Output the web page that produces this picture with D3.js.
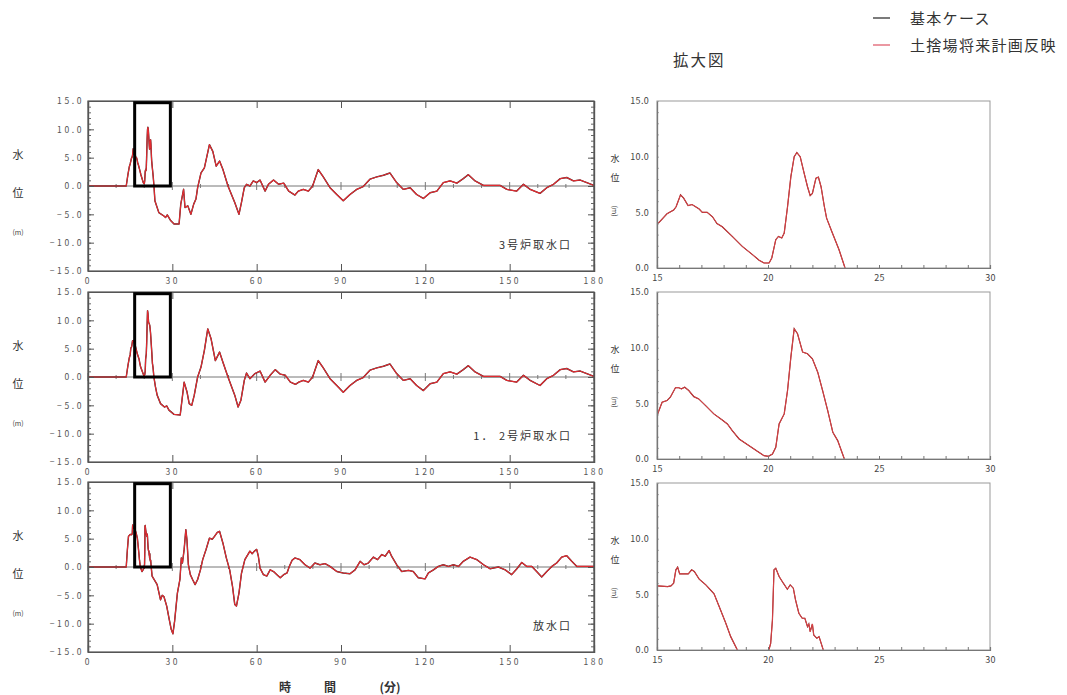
<!DOCTYPE html>
<html><head><meta charset="utf-8">
<script src="https://cdn.jsdelivr.net/npm/d3@7"></script>
<style>body{margin:0;background:#fff;} svg{display:block;font-family:"Noto Sans CJK JP","Noto Sans",sans-serif;}</style>
</head><body><svg id="c" width="1067" height="695"></svg>
<script>
// ---------- data ----------
const timeTicks = [0, 30, 60, 90, 120, 150, 180];
const levelTicks = [-15, -10, -5, 0, 5, 10, 15];
const zoomTimeTicks = [15, 20, 25, 30];
const zoomLevelTicks = [0, 5, 10, 15];
const panelNames = ["3号炉取水口", "1． 2号炉取水口", "放水口"];
const seriesNames = ["基本ケース", "土捨場将来計画反映"];
const zoomBoxTime = [16.6, 29.3];
const zoomBoxLevel = [0, 14.7];

// [time (min), water level (m)] — both cases coincide in the figure
const intake3 = [[0,0],[13.6,0],[14.2,2.0],[14.7,3.4],[15,3.9],[15.45,4.87],[15.75,5.2],[15.86,5.5],[16.06,6.57],[16.2,6.27],[16.4,5.6],[16.58,5.7],[16.9,5.3],[17.04,5.0],[17.26,5.0],[17.5,4.6],[17.7,4.0],[17.94,3.7],[18.39,2.84],[18.84,1.94],[19.3,1.2],[19.6,0.69],[19.82,0.45],[20.05,0.45],[20.17,0.9],[20.35,2.54],[20.47,2.84],[20.62,2.7],[20.73,3.14],[20.88,5.5],[21.03,8.2],[21.18,10.0],[21.3,10.37],[21.45,10.0],[21.63,8.5],[21.78,7.3],[21.9,6.5],[22.0,6.7],[22.16,8.07],[22.27,8.16],[22.39,7.3],[22.54,5.5],[22.64,4.48],[22.9,3.14],[23.2,1.64],[23.47,0],[23.8,-2.6],[25.2,-4.7],[27,-5.3],[27.6,-5.55],[28.2,-5.1],[29.4,-6.1],[30.6,-6.7],[32.4,-6.7],[33,-3.2],[34,-0.58],[34.5,-3.8],[35.5,-3.5],[36.6,-5.0],[37.6,-3.2],[38.4,-2.3],[39,-0.3],[40.2,2.3],[41.4,3.2],[43.2,7.3],[44.4,6.1],[45.6,3.5],[46.8,4.4],[48,2.9],[49.8,0],[52.2,-2.9],[53.7,-5.0],[54.6,-2.9],[55.6,-0.3],[56.4,0.3],[57.6,0],[58.8,0.9],[60,0.6],[61.2,1.05],[63,-0.9],[64.2,0.3],[66,1.05],[67.8,0.3],[69.6,0.5],[71.4,-0.9],[73.6,-1.6],[74.8,-0.9],[76.6,-0.6],[78.4,-0.9],[79.9,0],[81.9,2.9],[83.7,1.6],[86.1,-0.3],[88.5,-1.5],[90.8,-2.6],[93.2,-1.5],[95.6,-0.6],[97.9,-0.1],[100.3,1.2],[102.7,1.6],[105.1,1.9],[107.4,2.3],[109.8,0.6],[112.2,-0.6],[114.6,-0.3],[116.9,-1.5],[119.3,-2.2],[121.7,-1.2],[124.1,-0.9],[126.4,0.6],[128.8,0.9],[131.2,0.5],[133.5,1.3],[135.3,2.0],[137.7,0.9],[140.7,0.1],[144.2,0.1],[146.6,0.1],[149,-0.6],[152.5,-0.9],[154.9,0.3],[157.3,-0.6],[160.8,-1.3],[163.2,-0.3],[165.6,0.3],[168,1.3],[170.3,1.5],[172.7,0.9],[175.1,1.05],[180,0.1]];

const intake12 = [[0,0],[13.6,0],[14.2,2.0],[14.7,3.4],[15,3.9],[15.23,5.1],[15.45,5.25],[15.6,5.55],[15.83,6.4],[15.98,6.4],[16.1,6.3],[16.25,6.45],[16.43,6.15],[16.66,5.6],[16.88,5.4],[17.19,4.8],[17.56,4.05],[17.94,3.5],[18.17,3.15],[18.39,2.55],[18.7,1.8],[19.15,1.2],[19.52,0.69],[19.82,0.3],[20.02,0.24],[20.2,0.45],[20.35,1.05],[20.5,3.15],[20.73,4.05],[20.88,6.15],[21.03,9.15],[21.18,11.7],[21.33,11.25],[21.56,9.6],[21.78,9.45],[22.0,9.0],[22.24,7.8],[22.46,6.15],[22.69,4.35],[22.92,2.4],[23.14,1.65],[23.44,0],[24,-1.75],[24.6,-3.2],[25.8,-4.7],[27.2,-5.3],[28,-5.1],[28.8,-5.85],[30.6,-6.6],[32.8,-6.7],[34.2,-0.9],[35.2,-2.6],[36,-4.7],[36.9,-5.0],[37.8,-3.2],[39,0],[40.2,1.75],[41.4,4.7],[42.6,8.5],[43.8,6.7],[45.3,2.9],[46.8,4.4],[48,2.6],[49.8,0],[52.2,-3.2],[53.4,-5.3],[54.4,-4.1],[55.6,-0.6],[56.4,0.7],[57.6,-0.3],[59.4,0.6],[61.2,1.05],[63,-0.9],[64.8,0.3],[66.6,1.3],[68.4,0.5],[70.2,0.3],[72,-0.9],[73.8,-1.3],[75,-0.9],[76.6,-0.6],[78.4,-0.9],[79.9,0],[81.9,2.9],[83.7,1.6],[86.1,-0.3],[88.5,-1.5],[90.8,-2.7],[93.2,-1.5],[95.6,-0.6],[97.9,-0.1],[100.3,1.2],[102.7,1.6],[105.1,1.9],[107.4,2.3],[109.8,0.6],[112.2,-0.6],[114.6,-0.3],[116.9,-1.5],[119.3,-2.4],[121.7,-1.2],[124.1,-0.9],[126.4,0.6],[128.8,0.9],[131.2,0.5],[133.5,1.3],[135.3,2.0],[137.7,0.9],[140.7,0.1],[144.2,0.1],[146.6,0.1],[149,-0.6],[152.5,-0.9],[154.9,0.3],[157.3,-0.6],[160.8,-1.5],[163.2,-0.3],[165.6,0.3],[168,1.3],[170.3,1.5],[172.7,0.9],[175.1,1.05],[180,0.1]];

const outlet = [[0,0],[13.6,0],[14.0,3.0],[14.4,5.4],[15,5.76],[15.48,5.7],[15.63,5.76],[15.75,6.0],[15.85,7.2],[15.93,7.44],[16.02,6.84],[16.23,6.84],[16.41,6.84],[16.56,7.2],[16.68,7.05],[16.9,6.36],[17.2,5.85],[17.57,5.04],[17.8,3.9],[18.1,2.4],[18.32,1.2],[18.62,0],[19.2,-0.8],[19.7,-0.4],[20.04,0],[20.12,0.6],[20.2,2.7],[20.27,7.2],[20.35,7.35],[20.5,6.6],[20.69,6.0],[20.87,5.46],[21.0,5.85],[21.14,5.55],[21.24,4.5],[21.39,3.3],[21.54,2.85],[21.66,2.85],[21.78,2.1],[21.84,2.34],[21.9,1.65],[22.0,2.34],[22.06,1.35],[22.2,1.05],[22.3,1.2],[22.49,0],[22.8,-1.6],[24.6,-3.1],[25.8,-5.8],[26.4,-5.0],[27,-5.2],[28,-6.9],[28.8,-9],[29.6,-11],[30.2,-11.8],[30.8,-9.6],[31.8,-4.6],[32.7,-2.2],[33.2,1.6],[33.6,0.7],[34.2,3.1],[34.8,6.6],[35.2,4.8],[35.7,0.4],[36.4,-1.35],[37.2,-2.2],[38.1,-3.1],[39,-2.2],[40,-0.5],[40.8,1.3],[42,3.1],[43.2,5.1],[44.2,4.9],[45,5.4],[46,6.1],[46.8,6.3],[48,4.2],[49.2,1.6],[50.4,-0.5],[51.4,-3.4],[52.2,-6.6],[52.8,-6.9],[53.7,-4.6],[54.6,-1.1],[55.8,1.3],[57.6,2.8],[58.4,2.35],[59.2,2.8],[60,3.1],[60.6,1.9],[61.2,-0.2],[62.4,-1.35],[63.6,-1.6],[64.8,-0.5],[66,-0.8],[67.2,-1.35],[68.4,-1.9],[69.6,-1.35],[70.8,-1.05],[71.6,0.1],[72.6,1.2],[73.6,1.6],[75.4,1.3],[77.2,0.4],[79,-0.2],[80.7,0.7],[82.5,0.4],[84.3,0.6],[86.1,0.1],[88.5,-0.8],[90.8,-1.05],[93.2,-1.2],[95,-0.5],[96.8,1.0],[98.2,0.4],[99.7,0.7],[101.5,1.75],[103,1.3],[104.5,2.2],[105.7,1.9],[107.1,2.9],[108,1.9],[109.8,0.4],[111.6,-0.8],[114,-0.6],[115.7,-0.8],[117.5,-1.9],[119.9,-2.1],[121.1,-1.05],[122.9,-0.5],[124.6,0.1],[126.4,0.4],[128.2,0.1],[130,0.4],[131.8,0.1],[133.5,1.0],[135.9,1.75],[138.3,1.3],[140.7,0.4],[143,-0.3],[146,0],[148.4,-0.5],[150.7,-1.35],[152.5,-0.35],[154.3,0.8],[156.1,0.1],[157.9,0.1],[159.6,-0.8],[161.4,-1.75],[163.2,-0.8],[165,0.1],[166.7,0.7],[168.5,1.75],[170.3,2.0],[172.1,1.0],[173.9,0.1],[180,0.1]];

const panelData = [intake3, intake12, outlet];
const seriesColors = ["#333333", "#e42a30"];

// ---------- layout ----------
const svg = d3.select("#c");
const L = {x0: 88, x1: 594, h: 170, tops: [101, 292, 482]};
const R = {x0: 657, x1: 990, h: 167, tops: [101, 292, 483]};
const xL = d3.scaleLinear().domain([0, 180]).range([L.x0, L.x1]);
const xR = d3.scaleLinear().domain([15, 30]).range([R.x0, R.x1]);

function styleAxis(g, color, fs, ls, fill) {
  g.select(".domain").attr("stroke", color).attr("stroke-width", 1.2);
  g.selectAll(".tick line").attr("stroke", color);
  g.selectAll("text").attr("font-size", fs).attr("letter-spacing", ls).attr("fill", fill)
    .attr("font-family", "'Noto Sans CJK JP', sans-serif");
}

panelData.forEach((d, i) => {
  // ===== left full-range panel =====
  const top = L.tops[i];
  const y = d3.scaleLinear().domain([-15, 15]).range([top + L.h, top]);
  const g = svg.append("g");

  g.append("line").attr("x1", L.x0).attr("x2", L.x1).attr("y1", y(0)).attr("y2", y(0))
    .attr("stroke", "#777").attr("stroke-width", 1);
  g.selectAll(".zt").data(d3.range(0, 181, 10)).join("line")
    .attr("x1", t => xL(t)).attr("x2", t => xL(t))
    .attr("y1", t => y(0) - (t % 30 === 0 ? 4 : 2)).attr("y2", t => y(0) + (t % 30 === 0 ? 4 : 2))
    .attr("stroke", "#777");

  const line = d3.line().x(p => xL(p[0])).y(p => y(p[1]));
  g.append("path").datum(d).attr("d", line).attr("fill", "none")
    .attr("stroke", seriesColors[0]).attr("stroke-width", 1.4).attr("stroke-linejoin", "round");
  g.append("path").datum(d).attr("d", line).attr("fill", "none")
    .attr("stroke", seriesColors[1]).attr("stroke-width", 1.15).attr("stroke-linejoin", "round");

  g.append("rect").attr("x", L.x0).attr("y", top).attr("width", L.x1 - L.x0).attr("height", L.h)
    .attr("fill", "none").attr("stroke", "#555").attr("stroke-width", 1.2);

  // axes
  g.append("g").attr("transform", `translate(${L.x0},0)`)
    .call(d3.axisLeft(y).tickValues(d3.range(-15, 16, 1)).tickSize(-3).tickFormat(""))
    .call(a => styleAxis(a, "#666", 8, 0, "#555"));
  g.append("g").attr("transform", `translate(${L.x0},0)`)
    .call(d3.axisLeft(y).tickValues(levelTicks).tickSize(-6).tickPadding(4).tickFormat(d3.format(".1f")))
    .call(a => styleAxis(a, "#555", 8.5, 2.6, "#555"));
  g.append("g").attr("transform", `translate(${L.x1},0)`)
    .call(d3.axisRight(y).tickValues(d3.range(-15, 16, 1)).tickSize(-3).tickFormat(""))
    .call(a => styleAxis(a, "#666", 8, 0, "#555"));
  g.append("g").attr("transform", `translate(${L.x1},0)`)
    .call(d3.axisRight(y).tickValues(levelTicks).tickSize(-6).tickFormat(""))
    .call(a => styleAxis(a, "#555", 8, 0, "#555"));
  g.append("g").attr("transform", `translate(0,${top + L.h})`)
    .call(d3.axisBottom(xL).tickValues(timeTicks).tickSize(-7).tickPadding(7).tickFormat(d3.format("d")))
    .call(a => styleAxis(a, "#555", 8.5, 2.6, "#555"));
  g.append("g").attr("transform", `translate(0,${top})`)
    .call(d3.axisTop(xL).tickValues(timeTicks).tickSize(-7).tickFormat(""))
    .call(a => styleAxis(a, "#555", 8, 0, "#555"));

  // zoom box
  g.append("rect")
    .attr("x", xL(zoomBoxTime[0])).attr("y", y(zoomBoxLevel[1]))
    .attr("width", xL(zoomBoxTime[1]) - xL(zoomBoxTime[0]))
    .attr("height", y(zoomBoxLevel[0]) - y(zoomBoxLevel[1]))
    .attr("fill", "none").attr("stroke", "#000").attr("stroke-width", 3);

  // y titles
  g.append("text").attr("x", 18).attr("y", top + 58).attr("text-anchor", "middle")
    .attr("font-size", 11).attr("fill", "#333").text("水");
  g.append("text").attr("x", 18).attr("y", top + 96).attr("text-anchor", "middle")
    .attr("font-size", 11).attr("fill", "#333").text("位");
  g.append("text").attr("x", 18).attr("y", top + 134).attr("text-anchor", "middle")
    .attr("font-size", 7).attr("fill", "#444").text("(m)");

  g.append("text").attr("x", 572).attr("y", top + 148).attr("text-anchor", "end")
    .attr("font-size", 11).attr("letter-spacing", 2).attr("fill", "#333").text(panelNames[i]);

  // ===== right zoom panel =====
  const rt = R.tops[i];
  const yR = d3.scaleLinear().domain([0, 15]).range([rt + R.h, rt]);
  const rg = svg.append("g");
  const clipId = "clip" + i;
  rg.append("clipPath").attr("id", clipId).append("rect")
    .attr("x", R.x0).attr("y", rt).attr("width", R.x1 - R.x0).attr("height", R.h);
  const lineR = d3.line().x(p => xR(p[0])).y(p => yR(p[1]));
  const lg = rg.append("g").attr("clip-path", `url(#${clipId})`);
  lg.append("path").datum(d).attr("d", lineR).attr("fill", "none")
    .attr("stroke", "#8a1a1a").attr("stroke-width", 1.2);
  lg.append("path").datum(d).attr("d", lineR).attr("fill", "none")
    .attr("stroke", "#e0474c").attr("stroke-width", 0.9);

  rg.append("rect").attr("x", R.x0).attr("y", rt).attr("width", R.x1 - R.x0).attr("height", R.h)
    .attr("fill", "none").attr("stroke", "#999").attr("stroke-width", 1);
  rg.append("g").attr("transform", `translate(${R.x0},0)`)
    .call(d3.axisLeft(yR).tickValues(d3.range(0, 16, 1)).tickSize(-2).tickFormat(""))
    .call(a => styleAxis(a, "#aaa", 8, 0, "#555"));
  rg.append("g").attr("transform", `translate(${R.x0},0)`)
    .call(d3.axisLeft(yR).tickValues(zoomLevelTicks).tickSize(0).tickPadding(8).tickFormat(d3.format(".1f")))
    .call(a => styleAxis(a, "#777", 9, 0.3, "#444"));
  rg.append("g").attr("transform", `translate(0,${rt + R.h})`)
    .call(d3.axisBottom(xR).tickValues(d3.range(15, 31, 1)).tickSize(-3).tickFormat(""))
    .call(a => styleAxis(a, "#777", 8, 0, "#555"));
  rg.append("g").attr("transform", `translate(0,${rt + R.h})`)
    .call(d3.axisBottom(xR).tickValues(zoomTimeTicks).tickSize(0).tickPadding(7).tickFormat(d3.format("d")))
    .call(a => styleAxis(a, "#777", 9, 0.3, "#444"));

  rg.append("text").attr("x", 615).attr("y", rt + 61).attr("text-anchor", "middle")
    .attr("font-size", 9).attr("fill", "#333").text("水");
  rg.append("text").attr("x", 615).attr("y", rt + 80).attr("text-anchor", "middle")
    .attr("font-size", 9).attr("fill", "#333").text("位");
  rg.append("text").attr("transform", `translate(612,${rt + 110}) rotate(90)`).attr("text-anchor", "middle")
    .attr("font-size", 7).attr("fill", "#444").text("(m)");
});

// bottom title
[["時", 285], ["間", 330], ["(分)", 390]].forEach(([s, x]) => {
  svg.append("text").attr("x", x).attr("y", 692).attr("text-anchor", "middle")
    .attr("font-size", 12).attr("font-weight", 600).attr("fill", "#333").text(s);
});

// zoom title
svg.append("text").attr("x", 673).attr("y", 66).attr("font-size", 15.5).attr("letter-spacing", 2)
  .attr("fill", "#333").text("拡大図");

// legend
const legendColors = ["#333", "#e06070"];
seriesNames.forEach((name, k) => {
  const yy = 18 + k * 27;
  svg.append("line").attr("x1", 873).attr("x2", 890).attr("y1", yy).attr("y2", yy)
    .attr("stroke", legendColors[k]).attr("stroke-width", 1.3);
  svg.append("text").attr("x", 910).attr("y", yy + 5.5).attr("font-size", 15).attr("letter-spacing", 1.3)
    .attr("fill", "#333").text(name);
});
</script></body></html>
